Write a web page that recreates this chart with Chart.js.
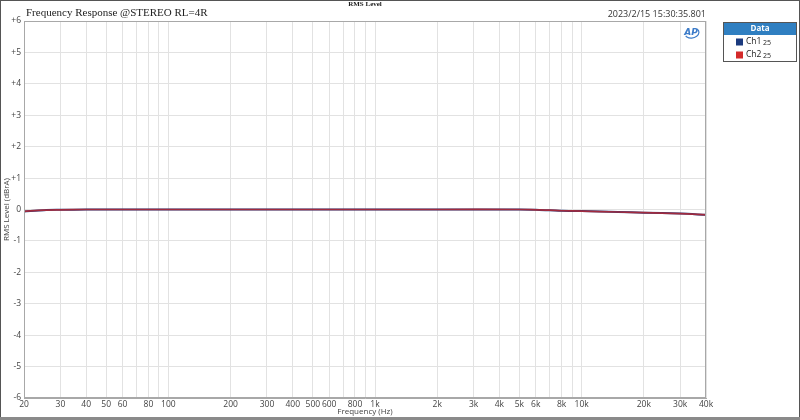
<!DOCTYPE html>
<html>
<head>
<meta charset="utf-8">
<script src="https://cdn.jsdelivr.net/npm/chart.js@4.4.1/dist/chart.umd.min.js"></script>
<style>
  html, body { margin: 0; padding: 0; background: #fff; }
  #wrap { width: 800px; height: 420px; }
</style>
</head>
<body>
<div id="wrap"><canvas id="frChart" width="800" height="420"></canvas></div>
<script>
const freqs = [20, 25, 30, 40, 50, 100, 200, 500, 1000, 2000, 5000, 6000, 7000, 8000, 10000, 15000, 20000, 30000, 40000];
const ch1 = [-0.06, -0.02, -0.01, 0, 0, 0, 0, 0, 0, 0, 0, -0.01, -0.02, -0.04, -0.05, -0.08, -0.10, -0.13, -0.17];
const ch2 = [-0.06, -0.02, -0.01, 0, 0, 0, 0, 0, 0, 0, 0, -0.01, -0.02, -0.04, -0.05, -0.08, -0.10, -0.13, -0.17];

// grid lines on every 1..9 step of each decade, labels only on some
const gridFreqs = [20, 30, 40, 50, 60, 70, 80, 90, 100, 200, 300, 400, 500, 600, 700, 800, 900,
  1000, 2000, 3000, 4000, 5000, 6000, 7000, 8000, 9000, 10000, 20000, 30000, 40000];
const freqLabels = {
  20: '20', 30: '30', 40: '40', 50: '50', 60: '60', 80: '80', 100: '100',
  200: '200', 300: '300', 400: '400', 500: '500', 600: '600', 800: '800', 1000: '1k',
  2000: '2k', 3000: '3k', 4000: '4k', 5000: '5k', 6000: '6k', 8000: '8k', 10000: '10k',
  20000: '20k', 30000: '30k', 40000: '40k'
};
const legendItems = [
  { name: 'Ch1', count: '25', color: '#1b3a7e' },
  { name: 'Ch2', count: '25', color: '#d42a2a' }
];

const tickFont = { family: 'Open Sans', size: 8.5 };

const decorPlugin = {
  id: 'decor',
  beforeDraw(chart) {
    const ctx = chart.ctx;
    ctx.save();
    ctx.fillStyle = '#fff';
    ctx.fillRect(0, 0, chart.width, chart.height);
    ctx.restore();
  },
  afterDraw(chart) {
    const ctx = chart.ctx;
    const area = chart.chartArea;
    ctx.save();

    // plot frame
    ctx.strokeStyle = '#a8a8a8';
    ctx.lineWidth = 1;
    ctx.strokeRect(area.left + 0.5, area.top + 0.5, area.right - area.left - 1, area.bottom - area.top - 1);

    // title
    ctx.fillStyle = '#222';
    ctx.font = '11px "Liberation Serif"';
    ctx.textBaseline = 'middle';
    ctx.textAlign = 'left';
    ctx.fillText('Frequency Response @STEREO RL=4R', 26, 13);

    ctx.font = 'bold 7px "Liberation Serif"';
    ctx.textAlign = 'center';
    ctx.fillText('RMS Level', (area.left + area.right) / 2, 4);

    ctx.font = '9px "Open Sans"';
    ctx.fillStyle = '#333';
    ctx.textAlign = 'right';
    ctx.fillText('2023/2/15 15:30:35.801', area.right, 14);

    // AP logo
    ctx.fillStyle = '#3d7cc9';
    ctx.font = 'italic bold 9px "DejaVu Sans"';
    ctx.textAlign = 'center';
    ctx.fillText('AP', 691, 33);
    ctx.strokeStyle = '#3d7cc9';
    ctx.lineWidth = 1.2;
    ctx.beginPath();
    ctx.ellipse(692, 33, 7, 5, -0.2, -0.6, Math.PI * 0.9);
    ctx.stroke();

    // legend box
    const lx = 723, ly = 22, lw = 74, lh = 40;
    ctx.fillStyle = '#fff';
    ctx.fillRect(lx, ly, lw, lh);
    ctx.fillStyle = '#2f7fc1';
    ctx.fillRect(lx, ly, lw, 13);
    ctx.strokeStyle = '#555';
    ctx.lineWidth = 1;
    ctx.strokeRect(lx + 0.5, ly + 0.5, lw - 1, lh - 1);
    ctx.fillStyle = '#fff';
    ctx.font = 'bold 8px "Open Sans"';
    ctx.textAlign = 'center';
    ctx.fillText('Data', lx + lw / 2, ly + 7);
    legendItems.forEach((it, i) => {
      const y = ly + 20 + i * 13;
      ctx.fillStyle = it.color;
      ctx.fillRect(736, y - 3.5, 7, 7);
      ctx.fillStyle = '#222';
      ctx.textAlign = 'left';
      ctx.font = '8.5px "Open Sans"';
      ctx.fillText(it.name, 746, y);
      ctx.font = '7px "Open Sans"';
      ctx.fillText(it.count, 763, y + 1);
    });

    // outer frame
    ctx.strokeStyle = '#555';
    ctx.lineWidth = 1;
    ctx.strokeRect(0.5, 0.5, chart.width - 1, chart.height - 1);
    ctx.fillStyle = '#8a8a8a';
    ctx.fillRect(0, chart.height - 3, chart.width, 3);
    ctx.restore();
  }
};

new Chart(document.getElementById('frChart').getContext('2d'), {
  type: 'line',
  data: {
    labels: freqs,
    datasets: [
      {
        label: 'Ch1',
        data: freqs.map((f, i) => ({ x: f, y: ch1[i] })),
        borderColor: '#1b3a7e',
        borderWidth: 2,
        pointRadius: 0,
        tension: 0.3,
        order: 2
      },
      {
        label: 'Ch2',
        data: freqs.map((f, i) => ({ x: f, y: ch2[i] })),
        borderColor: 'rgba(185, 40, 50, 0.85)',
        borderWidth: 1.7,
        pointRadius: 0,
        tension: 0.3,
        order: 1
      }
    ]
  },
  options: {
    responsive: false,
    animation: false,
    devicePixelRatio: 1,
    layout: { padding: { top: 21, right: 94, bottom: 0, left: 0 } },
    plugins: {
      legend: { display: false },
      tooltip: { enabled: false }
    },
    scales: {
      x: {
        type: 'logarithmic',
        min: 20,
        max: 40000,
        afterBuildTicks: (s) => { s.ticks = gridFreqs.map((v) => ({ value: v })); },
        afterFit: (s) => { s.height = 22; },
        ticks: {
          autoSkip: false,
          maxRotation: 0,
          padding: 1,
          color: '#444',
          font: tickFont,
          callback: (v) => freqLabels[v] || ''
        },
        grid: { color: '#e2e2e2', drawTicks: false },
        border: { color: '#a8a8a8' },
        title: {
          display: true,
          text: 'Frequency (Hz)',
          color: '#444',
          font: { family: 'Open Sans', size: 8 },
          padding: { top: 0, bottom: 3 }
        }
      },
      y: {
        min: -6,
        max: 6,
        afterFit: (s) => { s.width = 24; },
        ticks: {
          stepSize: 1,
          padding: 3,
          color: '#444',
          font: tickFont,
          callback: (v) => (v > 0 ? '+' + v : String(v))
        },
        grid: { color: '#e2e2e2', drawTicks: false },
        border: { color: '#a8a8a8' },
        title: {
          display: true,
          text: 'RMS Level (dBrA)',
          color: '#444',
          font: { family: 'Open Sans', size: 8 },
          padding: { top: 2, bottom: 0 }
        }
      }
    }
  },
  plugins: [decorPlugin]
});
</script>
</body>
</html>
